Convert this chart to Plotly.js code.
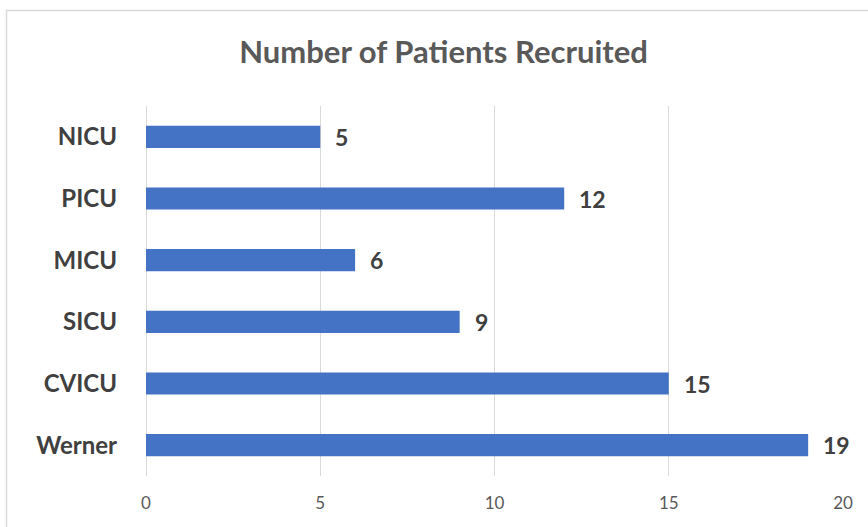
<!DOCTYPE html>
<html>
<head>
<meta charset="utf-8">
<script src="https://cdn.plot.ly/plotly-3.0.1.min.js"></script>
<style>
html,body{margin:0;padding:0;background:#fff;}
#chart{width:868px;height:527px;}
</style>
</head>
<body>
<div id="chart"></div>
<script>
const categories = ["NICU", "PICU", "MICU", "SICU", "CVICU", "Werner"];
const patients = [5, 12, 6, 9, 15, 19];
const xTicks = [0, 5, 10, 15, 20];

const W = 868, H = 527;
const L = 146, R = 25, T = 106, B = 51;
const pw = W - L - R, ph = H - T - B;
const px = v => (v - L) / pw;
const py = v => 1 - (v - T) / ph;

const font = "Lato, 'Open Sans', sans-serif";

const trace = {
  type: "bar",
  orientation: "h",
  y: categories,
  x: patients,
  marker: {color: "#4472C4", line: {width: 0}},
  width: 0.36,
  hoverinfo: "x+y"
};

const annotations = categories.map((c, i) => ({
  x: patients[i], y: c, xref: "x", yref: "y",
  text: String(patients[i]),
  showarrow: false, xanchor: "left", yanchor: "middle", xshift: 13,
  font: {family: font, size: 23, color: "#404040", weight: "bold"}
}));

const layout = {
  width: W, height: H,
  margin: {l: L, r: R, t: T, b: B, pad: 0},
  paper_bgcolor: "#fff", plot_bgcolor: "#fff",
  showlegend: false,
  title: {
    text: "Number of Patients Recruited",
    x: 0.511, xanchor: "center", y: 1 - 52 / H, yanchor: "middle",
    font: {family: font, size: 31, color: "#595959", weight: "bold"}
  },
  xaxis: {
    range: [0, 20],
    tickvals: xTicks,
    ticktext: xTicks.map(String),
    showgrid: true, gridcolor: "#d9d9d9", gridwidth: 1,
    zeroline: true, zerolinecolor: "#d9d9d9", zerolinewidth: 1,
    showline: false,
    ticks: "", ticklabelstandoff: 15,
    tickfont: {family: font, size: 17, color: "#595959"},
    fixedrange: true
  },
  yaxis: {
    autorange: "reversed",
    type: "category",
    showgrid: false, zeroline: false, showline: false,
    ticks: "", ticklabelstandoff: 28,
    tickfont: {family: font, size: 24, color: "#404040", weight: "bold"},
    fixedrange: true
  },
  annotations: annotations,
  shapes: [
    {type: "line", xref: "paper", yref: "paper", x0: px(6), x1: px(900), y0: py(10.5), y1: py(10.5),
     line: {color: "#d9d9d9", width: 1.5}},
    {type: "line", xref: "paper", yref: "paper", x0: px(6.5), x1: px(6.5), y0: py(10), y1: py(560),
     line: {color: "#d9d9d9", width: 1.5}}
  ]
};

Plotly.newPlot("chart", [trace], layout, {displayModeBar: false, staticPlot: true});
</script>
</body>
</html>
